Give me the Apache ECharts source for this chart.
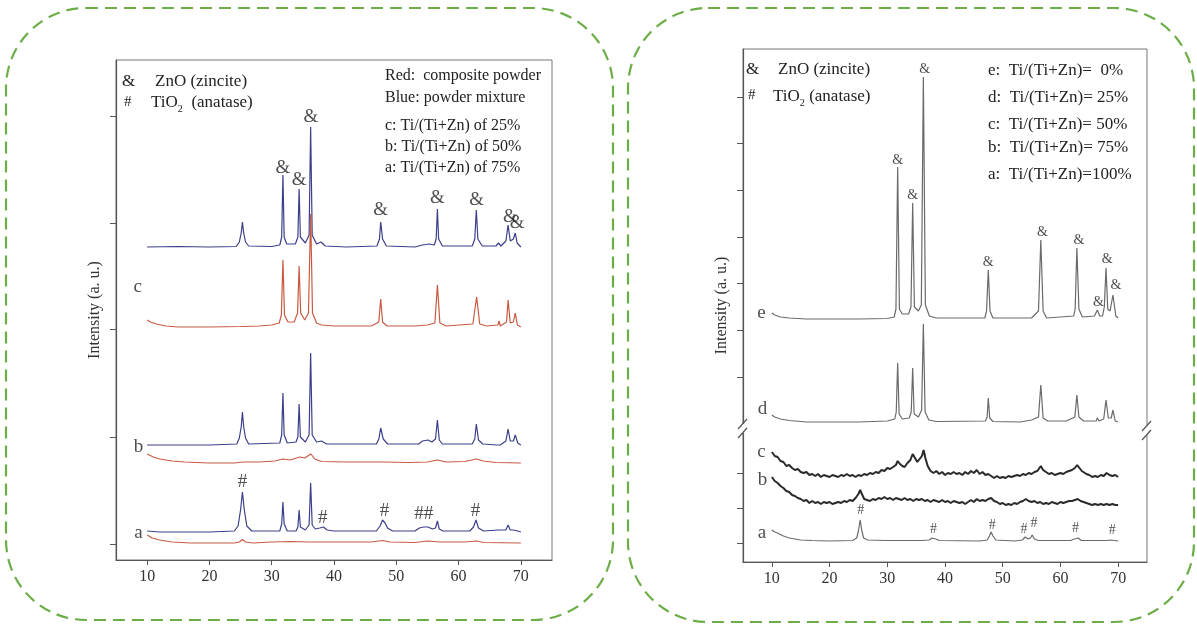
<!DOCTYPE html>
<html>
<head>
<meta charset="utf-8">
<script src="https://cdn.jsdelivr.net/npm/echarts@6/dist/echarts.min.js"></script>
<style>
html,body{margin:0;padding:0;background:#fff}
#main{width:1197px;height:627px}
</style>
</head>
<body>
<div id="main"></div>
<script>
/* global echarts */

// 2-theta tick labels (both panels)
var xTicks = [10, 20, 30, 40, 50, 60, 70]

// ---- left panel: blue = powder mixture, red = composite powder ----
// intensities above each curve's own baseline, [2theta, I]
var leftBlueC = [[10,0],[15,0.5],[20,0],[24.3,0.5],[24.8,5],[25.1,14],[25.3,25],[25.5,14],[25.8,5],[26.3,1],[30,0.5],[31.3,2],[31.6,10],[31.8,72],[32.0,10],[32.4,3],[33.8,3],[34.2,10],[34.4,58],[34.6,10],[35.4,4],[36.0,12],[36.25,120],[36.5,12],[37.2,3],[37.9,5],[38.6,1],[42,0],[46.9,1],[47.3,8],[47.5,25],[47.8,8],[48.4,1],[53,0],[54.2,2],[55.3,3],[56.1,2],[56.4,8],[56.6,38],[56.8,8],[57.4,1],[62.2,1],[62.6,8],[62.85,37],[63.1,8],[63.8,1],[66,1],[66.4,4],[66.8,1],[67.6,6],[67.95,22],[68.3,6],[68.8,8],[69.1,14],[69.4,4],[70,0]]
var leftRedC = [[10,7],[10.5,5],[11.5,3],[13,1],[15,0],[20,0],[25,0.5],[28,1],[30,2],[31.2,4],[31.55,12],[31.8,67],[32.05,12],[32.6,5],[33.6,5],[34.15,14],[34.4,61],[34.65,14],[35.3,7],[35.9,14],[36.25,113],[36.55,14],[37.2,4],[38,2],[40,1],[46,1],[47.2,5],[47.5,28],[47.8,5],[48.5,1],[53,1],[55,2],[56.2,4],[56.6,42],[57.0,4],[58,1],[62.3,3],[62.9,30],[63.4,3],[64.5,1],[66.3,2],[66.5,6],[66.7,1],[67.7,5],[67.95,27],[68.3,4],[68.8,5],[69.1,14],[69.45,2],[70,0]]
var leftBlueB = [[10,0],[20,0],[24.4,1],[24.8,7],[25.1,18],[25.3,33],[25.5,18],[25.8,7],[26.3,1],[31.3,2],[31.6,10],[31.8,52],[32.0,10],[32.5,2],[33.9,3],[34.2,8],[34.4,41],[34.6,8],[35.4,3],[36.0,10],[36.25,92],[36.5,10],[37.2,3],[38.0,4],[38.8,1],[46.8,1],[47.2,6],[47.5,17],[47.9,6],[48.6,1],[53.6,1],[54.2,4],[55.1,5],[55.7,3],[56.3,6],[56.6,25],[56.9,5],[57.4,1],[62.2,1],[62.6,6],[62.85,21],[63.2,5],[63.9,1],[66.1,0],[66.4,2],[66.7,0],[67.6,4],[67.95,16],[68.3,4],[68.8,4],[69.1,10],[69.5,2],[70,0]]
var leftRedB = [[10,9],[11,6],[12,4],[14,2],[16,1],[20,0],[24,0],[25.3,1],[28,1],[30.5,2],[31.8,4],[33,3],[34.5,6],[35.3,5],[36.3,9],[36.9,4],[38,1.5],[42,1],[46,1],[48,1],[52,0.5],[55,1],[56.6,3],[58,1],[61,1.5],[62.9,4],[64,2],[66,0.5],[70,0]]
var leftBlueA = [[10,1],[12,0],[20,0],[24.0,1],[24.6,6],[25.0,22],[25.3,40],[25.6,22],[26.0,6],[26.8,1],[31.3,1],[31.6,8],[31.8,30],[32.0,8],[32.5,1],[33.9,1],[34.2,5],[34.4,22],[34.6,5],[35.4,2],[36.0,7],[36.25,49],[36.5,7],[37.0,3],[37.7,4],[38.3,5],[38.9,2],[40,1],[46.8,1],[47.4,6],[47.8,12],[48.2,9],[48.6,4],[49.4,1],[53,1],[53.7,4],[54.4,5],[55.1,5],[55.8,3],[56.3,4],[56.6,11],[56.9,3],[57.5,1],[61.8,1],[62.4,5],[62.8,12],[63.2,4],[64.0,1],[66.4,2],[67.6,2],[67.95,7],[68.3,2],[68.8,2],[69.1,4],[69.5,1],[70,0]]
var leftRedA = [[10,8],[10.8,5],[12,3],[14,1],[17,0],[24,0],[24.8,1],[25.3,3.5],[25.8,1],[27,0],[30,1],[33,1.5],[36,1],[40,1],[46,1],[47.8,2.5],[49,1],[53,0.5],[55,2],[57,1],[61,1],[62.9,2],[64,0.5],[70,0]]
// vertical stacking offsets (a.u.)
var leftOffsets = {blueC: 313, redC: 233, blueB: 115, redB: 97, blueA: 28, redA: 17}
var leftTicksY = [16, 123, 231, 337, 444]

var leftMarks = [
	['&', 31.8, 392], ['&', 34.4, 380], ['&', 36.3, 443], ['&', 47.5, 350],
	['&', 56.6, 362], ['&', 62.9, 360], ['&', 68.3, 343], ['&', 69.4, 337],
	['#', 25.3, 78], ['#', 38.2, 42], ['#', 48.1, 49], ['##', 54.4, 46], ['#', 62.7, 49]
]
var leftCurveNames = [['c', 8.5, 273], ['b', 8.6, 113], ['a', 8.6, 27]]

// ---- right panel ----
var rightE = [[10,6],[10.5,4],[11.5,2],[13,1],[16,0],[25,0],[30,0.5],[31.2,2],[31.5,10],[31.8,152],[32.1,10],[32.6,5],[33.7,5],[34.1,12],[34.4,116],[34.7,12],[35.4,8],[35.9,14],[36.25,242],[36.6,14],[37.3,3],[38.5,1],[46.9,1],[47.2,8],[47.5,49],[47.8,8],[48.3,1],[55,1],[56.2,8],[56.6,79],[57.0,8],[57.6,1],[62.3,3],[62.55,10],[62.85,71],[63.2,10],[63.8,2],[65.9,3],[66.4,9],[66.8,3],[67.3,3],[67.6,12],[67.9,51],[68.2,10],[68.6,8],[69.1,24],[69.6,3],[70,1]]
var rightD = [[10,7],[10.5,5],[11.5,3],[13,1.5],[16,0],[25,0],[30,1],[31.3,3],[31.55,10],[31.8,59],[32.05,8],[32.6,3],[33.8,4],[34.15,10],[34.4,54],[34.65,8],[35.4,5],[35.95,12],[36.25,98],[36.55,10],[37.2,2],[38.5,0.5],[47.0,1],[47.3,5],[47.5,24],[47.75,4],[48.3,0.5],[53,0],[55,2],[56.2,5],[56.6,37],[57.0,4],[57.8,1],[61,1],[62.5,5],[62.85,27],[63.2,5],[64,1],[66.2,1],[66.4,4],[66.7,1],[67.5,3],[67.9,22],[68.3,4],[68.8,4],[69.1,12],[69.5,1],[70,0]]
var rightC = [[10,24],[10.5,20],[11,19],[11.5,15],[12,14],[12.5,10],[13,11],[13.5,8],[14,6],[14.5,7],[15,4],[15.5,3],[16,4],[16.5,1],[17,2],[17.5,0],[18,2],[18.5,-1],[19,1],[19.5,0],[20,-1],[20.5,1],[21,0],[21.5,-1],[22,1],[22.5,0],[23,2],[23.5,0],[24,1],[24.5,-1],[25,1],[25.5,0],[26,2],[26.5,1],[27,3],[27.5,2],[28,4],[28.5,3],[29,6],[29.5,5],[30,8],[30.5,7],[31,9],[31.5,11],[31.8,15],[32.2,12],[32.6,10],[33,9],[33.5,13],[34,16],[34.4,22],[34.8,18],[35.2,14],[35.6,17],[36.0,20],[36.3,26],[36.6,18],[37,10],[37.5,5],[38,3],[38.5,5],[39,2],[39.5,4],[40,1],[40.5,3],[41,2],[41.5,4],[42,2],[42.5,3],[43,1],[43.5,4],[44,2],[44.5,5],[45,3],[45.5,6],[46,2],[46.5,4],[47,1],[47.5,2],[48,0],[48.5,-2],[49,0],[49.5,-2],[50,-1],[50.5,-2],[51,0],[51.5,-1],[52,0],[52.5,1],[53,0],[53.5,2],[54,1],[54.5,3],[55,2],[55.5,4],[56,5],[56.6,10],[57,6],[57.5,4],[58,2],[58.5,3],[59,1],[59.5,2],[60,3],[60.5,2],[61,4],[61.5,5],[62,6],[62.5,8],[62.9,11],[63.3,8],[63.7,5],[64,4],[64.5,2],[65,1],[65.5,-1],[66,0],[66.5,-1],[67,1],[67.5,0],[68,3],[68.5,1],[69,0],[69.5,1],[70,-1]]
var rightB = [[10,26],[10.5,22],[11,20],[11.5,17],[12,15],[12.5,12],[13,11],[13.5,8],[14,7],[14.5,5],[15,4],[15.5,2],[16,3],[16.5,0],[17,2],[17.5,0],[18,1],[18.5,-1],[19,1],[19.5,0],[20,1],[20.5,-1],[21,0],[21.5,1],[22,0],[22.5,2],[23,1],[23.5,3],[24,2],[24.5,5],[25,9],[25.3,13],[25.6,9],[26,4],[26.5,3],[27,2],[27.5,4],[28,3],[28.5,5],[29,4],[29.5,6],[30,4],[30.5,5],[31,3],[31.5,5],[32,4],[32.5,3],[33,5],[33.5,3],[34,4],[34.5,2],[35,4],[35.5,3],[36,4],[36.5,2],[37,3],[37.5,1],[38,3],[38.5,2],[39,1],[39.5,3],[40,1],[40.5,2],[41,0],[41.5,2],[42,1],[42.5,0],[43,1],[43.5,-1],[44,1],[44.5,3],[45,1],[45.5,4],[46,2],[46.5,3],[47,2],[47.5,4],[48,5],[48.5,2],[49,1],[49.5,-1],[50,0],[50.5,-2],[51,-1],[51.5,-2],[52,0],[52.5,-1],[53,1],[53.5,2],[54,4],[54.5,2],[55,1],[55.5,2],[56,0],[56.5,1],[57,-1],[57.5,0],[58,-1],[58.5,1],[59,0],[59.5,-1],[60,1],[60.5,0],[61,1],[61.5,2],[62,2],[62.5,3],[63,4],[63.5,2],[64,1],[64.5,0],[65,-1],[65.5,-2],[66,-1],[66.5,-2],[67,-1],[67.5,-2],[68,-1],[68.5,-2],[69,-1],[69.5,-2],[70,-2]]
var rightA = [[10,11],[10.5,9],[11,8],[12,5],[13,3],[14,2],[15,1],[17,0.5],[20,0],[24,0.5],[24.7,3],[25.0,10],[25.3,21],[25.6,10],[25.9,3],[26.6,1],[30,0.5],[36,0.5],[37.3,1],[37.7,3],[38.0,4],[38.4,2],[39,0.5],[46,0],[47.3,1],[47.7,5],[48.0,9],[48.3,5],[48.8,1],[52,0],[53.4,1],[53.9,4],[54.4,2],[54.8,3],[55.1,6],[55.5,2],[56.2,0.5],[61.8,0.5],[62.4,2],[62.7,4],[63.1,3],[63.6,0.5],[68,0.5],[68.7,1],[69,2],[69.4,0.5],[70,0]]
var rightOffsets = {e: 243, d: 140, c: 86, b: 59, a: 21}
var rightTicksY = [19, 54, 89, 185, 232, 279, 325, 372, 419, 465]

var rightMarks = [
	['&', 31.8, 402], ['&', 34.4, 367], ['&', 36.5, 493], ['&', 47.5, 300],
	['&', 56.9, 330], ['&', 63.2, 322], ['&', 66.6, 260], ['&', 68.1, 303], ['&', 69.6, 277],
	['#', 25.4, 52], ['#', 38.0, 33], ['#', 48.2, 37], ['#', 53.7, 33], ['#', 55.4, 39],
	['#', 62.6, 34], ['#', 69.0, 32]
]
var rightCurveNames = [['e', 8.2, 249], ['d', 8.4, 153], ['c', 8.2, 110], ['b', 8.4, 82], ['a', 8.3, 29]]

var serif = '"Liberation Serif", "Times New Roman", serif'
var blue = '#3d3f8a', red = '#c85a43', grey = '#6a6a6a', dark = '#2a2a2a'

var chart = echarts.init(document.getElementById('main'))

function lift(points, off){
	return points.map(function(p){ return [p[0], p[1] + off] })
}

function curve(points, off, color, idx, width){
	return {
		type: 'line', xAxisIndex: idx, yAxisIndex: idx, data: lift(points, off),
		symbol: 'none', silent: true,
		lineStyle: {color: color, width: width || 1.2}
	}
}

function textLayer(list, idx, size){
	return {
		type: 'scatter', xAxisIndex: idx, yAxisIndex: idx, silent: true,
		symbolSize: 1, itemStyle: {color: 'rgba(0,0,0,0)'},
		data: list.map(function(m){ return {name: m[0], value: [m[1], m[2]]} }),
		label: {show: true, position: 'inside', formatter: '{b}', fontFamily: serif, fontSize: size, color: '#222'}
	}
}

function xAxis(idx){
	return {
		type: 'value', gridIndex: idx, min: 5, max: 75,
		axisLine: {lineStyle: {color: '#555', width: 1.2}},
		axisTick: {customValues: xTicks, length: 5, lineStyle: {color: '#555'}},
		axisLabel: {customValues: xTicks, fontFamily: serif, fontSize: 16, color: '#333', margin: 9},
		splitLine: {show: false}
	}
}

function yAxis(idx, max, ticks){
	return {
		type: 'value', gridIndex: idx, min: 0, max: max,
		name: 'Intensity (a. u.)', nameLocation: 'middle', nameGap: 13,
		nameTextStyle: {fontFamily: serif, fontSize: 16, color: '#333'},
		axisLine: {show: true, lineStyle: {color: '#555', width: 1.2}},
		axisTick: {customValues: ticks, length: 6, lineStyle: {color: '#555'}},
		axisLabel: {show: false},
		splitLine: {show: false}
	}
}

function txt(x, y, s, size){
	return {
		type: 'text', left: x, top: y, silent: true,
		style: {
			text: s, fill: '#222', font: size + 'px ' + serif,
			rich: {
				m: {fontFamily: serif, fontSize: size, fill: '#222'},
				s: {fontFamily: serif, fontSize: size * 0.6, fill: '#222', verticalAlign: 'bottom', padding: [0, 0, -3, 0]}
			}
		}
	}
}

function dashedBox(x, y, w, h){
	return {
		type: 'rect', silent: true, z: -1,
		shape: {x: x, y: y, width: w, height: h, r: 80},
		style: {fill: 'none', stroke: '#6cad47', lineWidth: 2.2, lineDash: [12, 7]}
	}
}

var option = {
	backgroundColor: '#fff',
	animation: false,
	grid: [
		{left: 116, top: 60, width: 436, height: 500, show: true, borderColor: '#777', borderWidth: 1},
		{left: 743, top: 49, width: 404, height: 513, show: true, borderColor: '#777', borderWidth: 1}
	],
	xAxis: [xAxis(0), xAxis(1)],
	yAxis: [yAxis(0, 500, leftTicksY), yAxis(1, 513, rightTicksY)],
	series: [
		curve(leftBlueC, leftOffsets.blueC, blue, 0),
		curve(leftRedC, leftOffsets.redC, red, 0),
		curve(leftBlueB, leftOffsets.blueB, blue, 0),
		curve(leftRedB, leftOffsets.redB, red, 0),
		curve(leftBlueA, leftOffsets.blueA, blue, 0),
		curve(leftRedA, leftOffsets.redA, red, 0),
		textLayer(leftMarks, 0, 19),
		textLayer(leftCurveNames, 0, 19),
		curve(rightE, rightOffsets.e, grey, 1),
		curve(rightD, rightOffsets.d, grey, 1),
		curve(rightC, rightOffsets.c, dark, 1, 2),
		curve(rightB, rightOffsets.b, dark, 1, 2),
		curve(rightA, rightOffsets.a, grey, 1),
		textLayer(rightMarks, 1, 14),
		textLayer(rightCurveNames, 1, 19)
	],
	graphic: [
		dashedBox(6, 8, 607, 612),
		dashedBox(628, 8, 566, 614),
		// left legend
		txt(122, 73, '&', 17), txt(155, 73, 'ZnO (zincite)', 17),
		txt(124, 95, '#', 15), txt(151, 94, '{m|TiO}{s|2}{m|  (anatase)}', 17),
		txt(385, 68, 'Red:  composite powder', 16),
		txt(385, 90, 'Blue: powder mixture', 16),
		txt(385, 118, 'c: Ti/(Ti+Zn) of 25%', 16),
		txt(385, 139, 'b: Ti/(Ti+Zn) of 50%', 16),
		txt(385, 160, 'a: Ti/(Ti+Zn) of 75%', 16),
		// right legend
		txt(746, 61, '&', 17), txt(778, 61, 'ZnO (zincite)', 17),
		txt(748, 88, '#', 15), txt(773, 88, '{m|TiO}{s|2}{m| (anatase)}', 17),
		txt(988, 62, 'e:  Ti/(Ti+Zn)=  0%', 17),
		txt(988, 89, 'd:  Ti/(Ti+Zn)= 25%', 17),
		txt(988, 116, 'c:  Ti/(Ti+Zn)= 50%', 17),
		txt(988, 139, 'b:  Ti/(Ti+Zn)= 75%', 17),
		txt(988, 166, 'a:  Ti/(Ti+Zn)=100%', 17),
		// axis break on the right panel
		{type: 'rect', silent: true, z: 10, shape: {x: 738, y: 424, width: 10, height: 9}, style: {fill: '#fff'}},
		{type: 'rect', silent: true, z: 10, shape: {x: 1142, y: 426, width: 10, height: 9}, style: {fill: '#fff'}},
		{type: 'line', silent: true, z: 11, shape: {x1: 738, y1: 429, x2: 747, y2: 419}, style: {stroke: '#555', lineWidth: 1.2}},
		{type: 'line', silent: true, z: 11, shape: {x1: 738, y1: 438, x2: 747, y2: 428}, style: {stroke: '#555', lineWidth: 1.2}},
		{type: 'line', silent: true, z: 11, shape: {x1: 1142, y1: 431, x2: 1151, y2: 421}, style: {stroke: '#555', lineWidth: 1.2}},
		{type: 'line', silent: true, z: 11, shape: {x1: 1142, y1: 440, x2: 1151, y2: 430}, style: {stroke: '#555', lineWidth: 1.2}}
	]
}

chart.setOption(option)
</script>
</body>
</html>
